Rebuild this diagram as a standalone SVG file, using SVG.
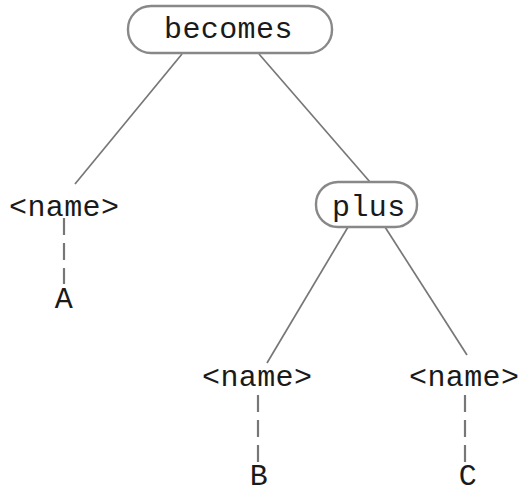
<svg xmlns="http://www.w3.org/2000/svg" width="524" height="495" viewBox="0 0 524 495">
<style>
.t{font-family:"Liberation Mono","DejaVu Sans Mono",monospace;font-size:30px;letter-spacing:0.4px;fill:#1a1a1a}
.box{fill:#fff;stroke:#888;stroke-width:2.4}
.edge{stroke:#777;stroke-width:1.7;fill:none}
.dash{stroke:#777;stroke-width:2.2;fill:none;stroke-dasharray:17 8}
</style>
<rect width="524" height="495" fill="#fff"/>
<g id="connectors">
<line class="edge" x1="182" y1="54" x2="75" y2="184"/>
<line class="edge" x1="259" y1="54" x2="370" y2="182"/>
<line class="edge" x1="348" y1="227" x2="267" y2="363"/>
<line class="edge" x1="385" y1="227" x2="467" y2="355"/>
<line class="dash" x1="64" y1="218" x2="64" y2="284"/>
<line class="dash" x1="258" y1="395" x2="258" y2="464"/>
<line class="dash" x1="465" y1="395" x2="465" y2="464"/>
</g>
<g id="becomes">
<rect class="box" x="128" y="6" width="204" height="47" rx="23"/>
<text class="t" x="164" y="38">becomes</text>
</g>
<g id="name1">
<text class="t" x="9" y="216">&lt;name&gt;</text>
</g>
<g id="A">
<text class="t" x="64" y="308" text-anchor="middle">A</text>
</g>
<g id="plus">
<rect class="box" x="316" y="182" width="101" height="45" rx="22"/>
<text class="t" x="332" y="216">plus</text>
</g>
<g id="name2">
<text class="t" x="202" y="386">&lt;name&gt;</text>
</g>
<g id="B">
<text class="t" x="259" y="485" text-anchor="middle">B</text>
</g>
<g id="name3">
<text class="t" x="409" y="386">&lt;name&gt;</text>
</g>
<g id="C">
<text class="t" x="468" y="485" text-anchor="middle">C</text>
</g>
</svg>
